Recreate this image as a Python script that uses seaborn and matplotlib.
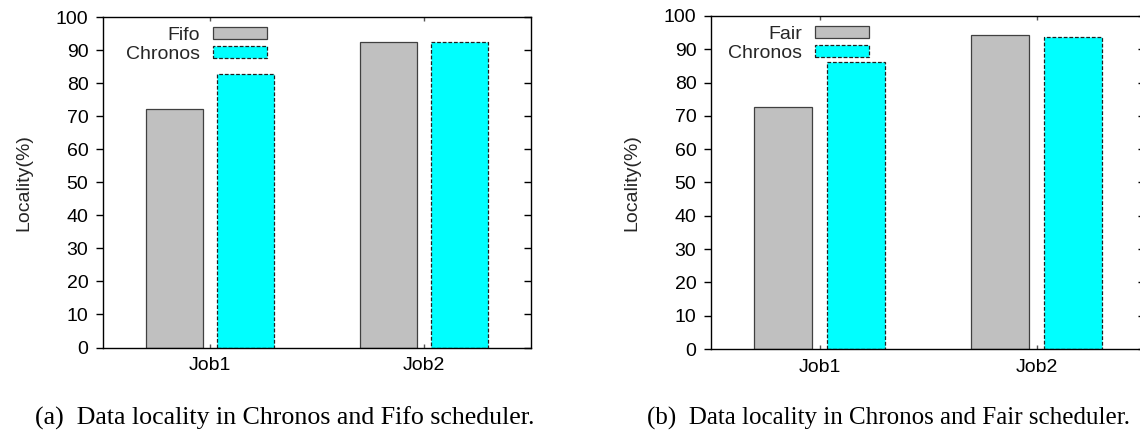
import matplotlib
matplotlib.use("Agg")
import matplotlib.pyplot as plt
import seaborn as sns
import pandas as pd
from matplotlib.patches import Patch

jobs = ["Job1", "Job2"]
fifo = [72.2, 92.3]
chronos_a = [82.8, 92.4]
fair = [72.6, 94.4]
chronos_b = [86.3, 93.7]
yticks = [0, 10, 20, 30, 40, 50, 60, 70, 80, 90, 100]
caption_a = "(a)  Data locality in Chronos and Fifo scheduler."
caption_b = "(b)  Data locality in Chronos and Fair scheduler."

sns.set_theme(style="white")
plt.rcParams["font.family"] = ["Liberation Sans", "DejaVu Sans"]

GRAY = "#c0c0c0"
CYAN = "#00ffff"
FS = 14

fig = plt.figure(figsize=(11.4, 4.33), dpi=100)
W, H = 1140, 433


def make_axes(x0, x1, ytop, ybot):
    return fig.add_axes([x0 / W, (H - ybot) / H, (x1 - x0) / W, (ybot - ytop) / H])


def panel(ax, names, v1, v2, legend_anchor):
    df = pd.DataFrame({
        "job": jobs * 2,
        "sched": [names[0]] * len(jobs) + [names[1]] * len(jobs),
        "val": list(v1) + list(v2),
    })
    sns.barplot(data=df, x="job", y="val", hue="sched", hue_order=names,
                palette=[GRAY, CYAN], width=0.667, gap=0.2, ax=ax,
                saturation=1, legend=False, errorbar=None)
    for p in ax.containers[0]:
        p.set_edgecolor("#404040")
        p.set_linewidth(0.9)
    for p in ax.containers[1]:
        p.set_edgecolor("#202020")
        p.set_linewidth(0.9)
        p.set_linestyle((0, (3, 1.5)))
    ax.set_xlim(-0.5, 1.5)
    ax.set_ylim(0, 100)
    ax.set_yticks(yticks)
    ax.set_xlabel("")
    ax.set_ylabel("Locality(%)", fontsize=FS, labelpad=17)
    for s in ax.spines.values():
        s.set_visible(True)
        s.set_color("black")
        s.set_linewidth(1.0)
    ax.tick_params(axis="y", direction="out", length=5, width=1, color="black",
                   left=True, right=False, labelsize=FS, pad=5.5, labelcolor="black")
    ax.tick_params(axis="x", direction="in", length=3, width=1, color="#555555",
                   bottom=True, top=True, labelsize=FS, pad=7, labelcolor="black")
    sec = ax.secondary_yaxis("right")
    sec.set_yticks(yticks)
    sec.tick_params(direction="in", length=5, width=1, color="black", labelright=False)
    sec.spines["right"].set_visible(False)
    handles = [
        Patch(facecolor=GRAY, edgecolor="#404040", linewidth=0.9, label=names[0]),
        Patch(facecolor=CYAN, edgecolor="#202020", linewidth=0.9,
              linestyle=(0, (3, 1.5)), label=names[1]),
    ]
    ax.legend(handles=handles, loc="upper right", bbox_to_anchor=legend_anchor,
              frameon=False, markerfirst=False, fontsize=FS, borderpad=0,
              borderaxespad=0, handlelength=2.78, handleheight=0.52,
              handletextpad=0.67, labelspacing=0.1)


ax1 = make_axes(103, 531, 17, 347.5)
panel(ax1, ["Fifo", "Chronos"], fifo, chronos_a, ((267 - 103) / 428, 0.97))
ax2 = make_axes(711, 1145, 16, 349)
panel(ax2, ["Fair", "Chronos"], fair, chronos_b, ((869 - 711) / 434, 0.97))

cap_kw = dict(family=["Liberation Serif", "DejaVu Serif"],
              va="baseline", ha="left", color="black")
fig.text(35 / W, (H - 425) / H, caption_a, fontsize=18.6, **cap_kw)
fig.text(647 / W, (H - 425) / H, caption_b, fontsize=18.0, **cap_kw)

fig.savefig("out.png", dpi=100)
